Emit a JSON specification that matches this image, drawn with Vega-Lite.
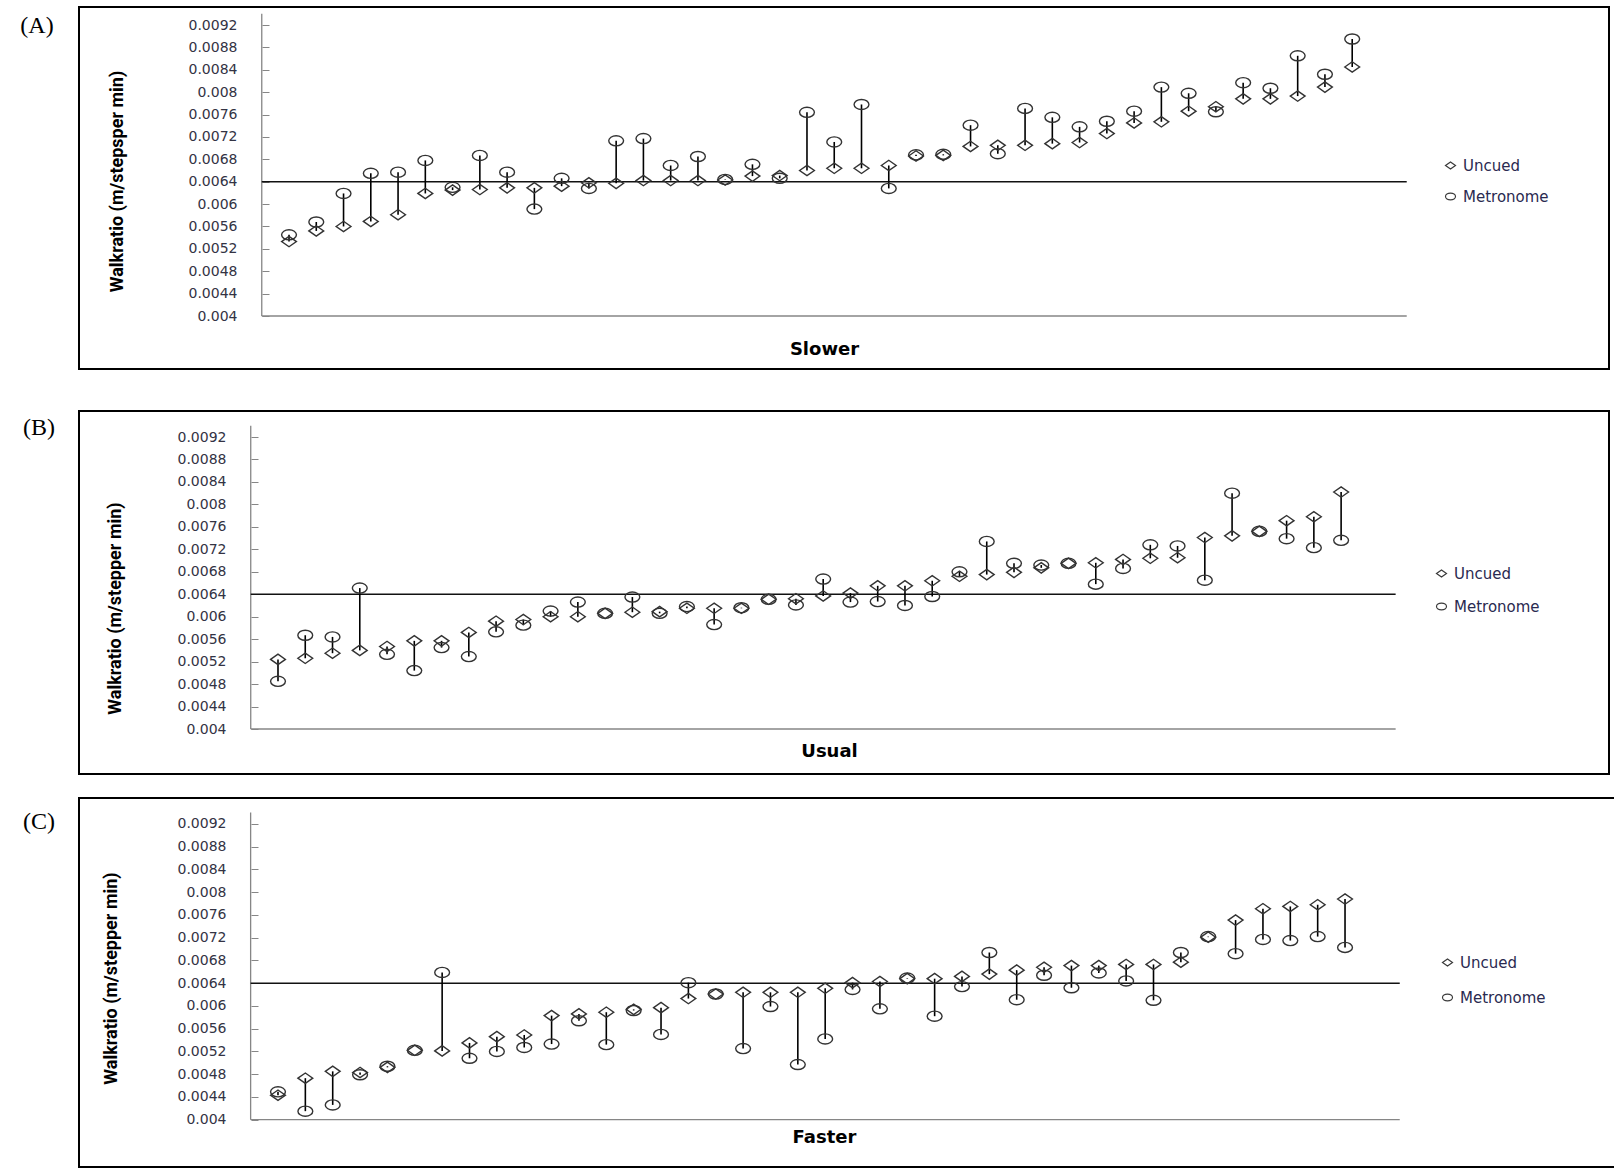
{
  "$schema": "https://vega.github.io/schema/vega-lite/v6.json",
  "background": "white",
  "padding": {"left": 19, "top": 6, "right": 0, "bottom": 0},
  "spacing": 40,
  "config": {
    "view": {"stroke": "black", "strokeWidth": 2},
    "axis": {"grid": false, "labelOverlap": false},
    "font": "DejaVu Sans"
  },
  "resolve": {
    "scale": {"x": "independent", "y": "independent", "shape": "independent"},
    "legend": {"shape": "independent"}
  },
  "datasets": {
    "walk": [
      {"speed": "Slower", "p": 1, "Uncued": 0.00533, "Metronome": 0.00545},
      {"speed": "Slower", "p": 2, "Uncued": 0.00552, "Metronome": 0.00568},
      {"speed": "Slower", "p": 3, "Uncued": 0.00560, "Metronome": 0.00619},
      {"speed": "Slower", "p": 4, "Uncued": 0.00569, "Metronome": 0.00655},
      {"speed": "Slower", "p": 5, "Uncued": 0.00581, "Metronome": 0.00657},
      {"speed": "Slower", "p": 6, "Uncued": 0.00619, "Metronome": 0.00678},
      {"speed": "Slower", "p": 7, "Uncued": 0.00625, "Metronome": 0.00630},
      {"speed": "Slower", "p": 8, "Uncued": 0.00626, "Metronome": 0.00687},
      {"speed": "Slower", "p": 9, "Uncued": 0.00629, "Metronome": 0.00657},
      {"speed": "Slower", "p": 10, "Uncued": 0.00629, "Metronome": 0.00591},
      {"speed": "Slower", "p": 11, "Uncued": 0.00632, "Metronome": 0.00646},
      {"speed": "Slower", "p": 12, "Uncued": 0.00638, "Metronome": 0.00628},
      {"speed": "Slower", "p": 13, "Uncued": 0.00637, "Metronome": 0.00713},
      {"speed": "Slower", "p": 14, "Uncued": 0.00642, "Metronome": 0.00717},
      {"speed": "Slower", "p": 15, "Uncued": 0.00642, "Metronome": 0.00669},
      {"speed": "Slower", "p": 16, "Uncued": 0.00642, "Metronome": 0.00685},
      {"speed": "Slower", "p": 17, "Uncued": 0.00643, "Metronome": 0.00644},
      {"speed": "Slower", "p": 18, "Uncued": 0.00650, "Metronome": 0.00671},
      {"speed": "Slower", "p": 19, "Uncued": 0.00651, "Metronome": 0.00646},
      {"speed": "Slower", "p": 20, "Uncued": 0.00660, "Metronome": 0.00764},
      {"speed": "Slower", "p": 21, "Uncued": 0.00664, "Metronome": 0.00711},
      {"speed": "Slower", "p": 22, "Uncued": 0.00664, "Metronome": 0.00778},
      {"speed": "Slower", "p": 23, "Uncued": 0.00669, "Metronome": 0.00628},
      {"speed": "Slower", "p": 24, "Uncued": 0.00686, "Metronome": 0.00688},
      {"speed": "Slower", "p": 25, "Uncued": 0.00687, "Metronome": 0.00689},
      {"speed": "Slower", "p": 26, "Uncued": 0.00703, "Metronome": 0.00741},
      {"speed": "Slower", "p": 27, "Uncued": 0.00705, "Metronome": 0.00690},
      {"speed": "Slower", "p": 28, "Uncued": 0.00705, "Metronome": 0.00771},
      {"speed": "Slower", "p": 29, "Uncued": 0.00708, "Metronome": 0.00755},
      {"speed": "Slower", "p": 30, "Uncued": 0.00710, "Metronome": 0.00738},
      {"speed": "Slower", "p": 31, "Uncued": 0.00726, "Metronome": 0.00748},
      {"speed": "Slower", "p": 32, "Uncued": 0.00745, "Metronome": 0.00766},
      {"speed": "Slower", "p": 33, "Uncued": 0.00747, "Metronome": 0.00809},
      {"speed": "Slower", "p": 34, "Uncued": 0.00766, "Metronome": 0.00798},
      {"speed": "Slower", "p": 35, "Uncued": 0.00774, "Metronome": 0.00765},
      {"speed": "Slower", "p": 36, "Uncued": 0.00788, "Metronome": 0.00817},
      {"speed": "Slower", "p": 37, "Uncued": 0.00788, "Metronome": 0.00807},
      {"speed": "Slower", "p": 38, "Uncued": 0.00793, "Metronome": 0.00865},
      {"speed": "Slower", "p": 39, "Uncued": 0.00809, "Metronome": 0.00832},
      {"speed": "Slower", "p": 40, "Uncued": 0.00845, "Metronome": 0.00895},
      {"speed": "Usual", "p": 1, "Uncued": 0.00524, "Metronome": 0.00485},
      {"speed": "Usual", "p": 2, "Uncued": 0.00526, "Metronome": 0.00567},
      {"speed": "Usual", "p": 3, "Uncued": 0.00535, "Metronome": 0.00564},
      {"speed": "Usual", "p": 4, "Uncued": 0.00540, "Metronome": 0.00651},
      {"speed": "Usual", "p": 5, "Uncued": 0.00547, "Metronome": 0.00533},
      {"speed": "Usual", "p": 6, "Uncued": 0.00557, "Metronome": 0.00504},
      {"speed": "Usual", "p": 7, "Uncued": 0.00557, "Metronome": 0.00545},
      {"speed": "Usual", "p": 8, "Uncued": 0.00572, "Metronome": 0.00529},
      {"speed": "Usual", "p": 9, "Uncued": 0.00592, "Metronome": 0.00573},
      {"speed": "Usual", "p": 10, "Uncued": 0.00595, "Metronome": 0.00585},
      {"speed": "Usual", "p": 11, "Uncued": 0.00600, "Metronome": 0.00610},
      {"speed": "Usual", "p": 12, "Uncued": 0.00600, "Metronome": 0.00626},
      {"speed": "Usual", "p": 13, "Uncued": 0.00606, "Metronome": 0.00606},
      {"speed": "Usual", "p": 14, "Uncued": 0.00608, "Metronome": 0.00635},
      {"speed": "Usual", "p": 15, "Uncued": 0.00609, "Metronome": 0.00606},
      {"speed": "Usual", "p": 16, "Uncued": 0.00615, "Metronome": 0.00618},
      {"speed": "Usual", "p": 17, "Uncued": 0.00615, "Metronome": 0.00586},
      {"speed": "Usual", "p": 18, "Uncued": 0.00615, "Metronome": 0.00616},
      {"speed": "Usual", "p": 19, "Uncued": 0.00631, "Metronome": 0.00631},
      {"speed": "Usual", "p": 20, "Uncued": 0.00632, "Metronome": 0.00621},
      {"speed": "Usual", "p": 21, "Uncued": 0.00637, "Metronome": 0.00667},
      {"speed": "Usual", "p": 22, "Uncued": 0.00642, "Metronome": 0.00626},
      {"speed": "Usual", "p": 23, "Uncued": 0.00655, "Metronome": 0.00627},
      {"speed": "Usual", "p": 24, "Uncued": 0.00655, "Metronome": 0.00620},
      {"speed": "Usual", "p": 25, "Uncued": 0.00664, "Metronome": 0.00636},
      {"speed": "Usual", "p": 26, "Uncued": 0.00672, "Metronome": 0.00680},
      {"speed": "Usual", "p": 27, "Uncued": 0.00675, "Metronome": 0.00734},
      {"speed": "Usual", "p": 28, "Uncued": 0.00679, "Metronome": 0.00695},
      {"speed": "Usual", "p": 29, "Uncued": 0.00687, "Metronome": 0.00692},
      {"speed": "Usual", "p": 30, "Uncued": 0.00695, "Metronome": 0.00695},
      {"speed": "Usual", "p": 31, "Uncued": 0.00696, "Metronome": 0.00658},
      {"speed": "Usual", "p": 32, "Uncued": 0.00702, "Metronome": 0.00686},
      {"speed": "Usual", "p": 33, "Uncued": 0.00704, "Metronome": 0.00728},
      {"speed": "Usual", "p": 34, "Uncued": 0.00705, "Metronome": 0.00726},
      {"speed": "Usual", "p": 35, "Uncued": 0.00741, "Metronome": 0.00665},
      {"speed": "Usual", "p": 36, "Uncued": 0.00744, "Metronome": 0.00820},
      {"speed": "Usual", "p": 37, "Uncued": 0.00752, "Metronome": 0.00752},
      {"speed": "Usual", "p": 38, "Uncued": 0.00771, "Metronome": 0.00739},
      {"speed": "Usual", "p": 39, "Uncued": 0.00778, "Metronome": 0.00723},
      {"speed": "Usual", "p": 40, "Uncued": 0.00822, "Metronome": 0.00736},
      {"speed": "Faster", "p": 1, "Uncued": 0.00443, "Metronome": 0.00449},
      {"speed": "Faster", "p": 2, "Uncued": 0.00473, "Metronome": 0.00415},
      {"speed": "Faster", "p": 3, "Uncued": 0.00485, "Metronome": 0.00426},
      {"speed": "Faster", "p": 4, "Uncued": 0.00483, "Metronome": 0.00479},
      {"speed": "Faster", "p": 5, "Uncued": 0.00492, "Metronome": 0.00494},
      {"speed": "Faster", "p": 6, "Uncued": 0.00522, "Metronome": 0.00522},
      {"speed": "Faster", "p": 7, "Uncued": 0.00521, "Metronome": 0.00659},
      {"speed": "Faster", "p": 8, "Uncued": 0.00535, "Metronome": 0.00508},
      {"speed": "Faster", "p": 9, "Uncued": 0.00546, "Metronome": 0.00520},
      {"speed": "Faster", "p": 10, "Uncued": 0.00549, "Metronome": 0.00527},
      {"speed": "Faster", "p": 11, "Uncued": 0.00583, "Metronome": 0.00533},
      {"speed": "Faster", "p": 12, "Uncued": 0.00586, "Metronome": 0.00574},
      {"speed": "Faster", "p": 13, "Uncued": 0.00589, "Metronome": 0.00532},
      {"speed": "Faster", "p": 14, "Uncued": 0.00594, "Metronome": 0.00592},
      {"speed": "Faster", "p": 15, "Uncued": 0.00597, "Metronome": 0.00550},
      {"speed": "Faster", "p": 16, "Uncued": 0.00613, "Metronome": 0.00641},
      {"speed": "Faster", "p": 17, "Uncued": 0.00621, "Metronome": 0.00621},
      {"speed": "Faster", "p": 18, "Uncued": 0.00624, "Metronome": 0.00525},
      {"speed": "Faster", "p": 19, "Uncued": 0.00624, "Metronome": 0.00599},
      {"speed": "Faster", "p": 20, "Uncued": 0.00624, "Metronome": 0.00497},
      {"speed": "Faster", "p": 21, "Uncued": 0.00631, "Metronome": 0.00542},
      {"speed": "Faster", "p": 22, "Uncued": 0.00641, "Metronome": 0.00629},
      {"speed": "Faster", "p": 23, "Uncued": 0.00643, "Metronome": 0.00595},
      {"speed": "Faster", "p": 24, "Uncued": 0.00648, "Metronome": 0.00649},
      {"speed": "Faster", "p": 25, "Uncued": 0.00648, "Metronome": 0.00582},
      {"speed": "Faster", "p": 26, "Uncued": 0.00652, "Metronome": 0.00634},
      {"speed": "Faster", "p": 27, "Uncued": 0.00656, "Metronome": 0.00694},
      {"speed": "Faster", "p": 28, "Uncued": 0.00663, "Metronome": 0.00611},
      {"speed": "Faster", "p": 29, "Uncued": 0.00668, "Metronome": 0.00654},
      {"speed": "Faster", "p": 30, "Uncued": 0.00671, "Metronome": 0.00632},
      {"speed": "Faster", "p": 31, "Uncued": 0.00671, "Metronome": 0.00658},
      {"speed": "Faster", "p": 32, "Uncued": 0.00673, "Metronome": 0.00644},
      {"speed": "Faster", "p": 33, "Uncued": 0.00673, "Metronome": 0.00610},
      {"speed": "Faster", "p": 34, "Uncued": 0.00677, "Metronome": 0.00694},
      {"speed": "Faster", "p": 35, "Uncued": 0.00721, "Metronome": 0.00722},
      {"speed": "Faster", "p": 36, "Uncued": 0.00751, "Metronome": 0.00692},
      {"speed": "Faster", "p": 37, "Uncued": 0.00771, "Metronome": 0.00717},
      {"speed": "Faster", "p": 38, "Uncued": 0.00775, "Metronome": 0.00715},
      {"speed": "Faster", "p": 39, "Uncued": 0.00778, "Metronome": 0.00722},
      {"speed": "Faster", "p": 40, "Uncued": 0.00788, "Metronome": 0.00703}
    ]
  },
  "vconcat": [
    {
      "resolve": {"scale": {"x": "independent", "y": "independent", "shape": "independent"}, "legend": {"shape": "independent"}},
      "vconcat": [
        {
          "width": 1530,
          "height": 362,
          "title": {"text": "(A)", "orient": "left", "anchor": "end", "frame": "group", "angle": 0, "align": "right", "baseline": "top", "offset": -8, "dy": 7, "font": "Liberation Serif", "fontSize": 24, "fontWeight": "normal", "color": "black"},
          "layer": [
            {
              "data": {"values": [{}]},
              "mark": {"type": "rule", "color": "#868686", "strokeWidth": 1.3},
              "encoding": {
                "x": {"datum": 0, "type": "quantitative",
                      "scale": {"domain": [-6.704, 49.42], "nice": false, "zero": false},
                      "axis": {"orient": "bottom", "offset": -53, "domain": false, "ticks": false, "labels": false, "grid": false,
                               "title": "Slower", "titleFont": "DejaVu Sans", "titleFontWeight": "bold", "titleFontSize": 18, "titleColor": "black",
                               "titleX": 745, "titlePadding": 33, "titleBaseline": "middle"}},
                "y": {"datum": 0.004, "type": "quantitative",
                      "scale": {"domain": [0.003053, 0.0095217], "nice": false, "zero": false},
                      "axis": {"orient": "left", "offset": -183, "domain": false, "grid": false, "labelOverlap": false, "tickCount": 30,
                               "values": [0.004, 0.0044, 0.0048, 0.0052, 0.0056, 0.006, 0.0064, 0.0068, 0.0072, 0.0076, 0.008, 0.0084, 0.0088, 0.0092],
                               "format": "~g", "tickSize": -7, "tickColor": "#868686", "tickWidth": 1, "labelPadding": 32,
                               "labelFont": "DejaVu Sans", "labelFontSize": 14, "labelColor": "#333344",
                               "title": "Walkratio (m/stepsper min)", "titleFont": "Roboto", "titleFontWeight": "bold", "titleFontSize": 18,
                               "titleColor": "black", "titleAngle": -90, "titleX": -145, "titleY": 174, "titleBaseline": "middle", "titleAlign": "center"}},
                "y2": {"datum": 0.0094}
              }
            },
            {
              "data": {"values": [{}]},
              "mark": {"type": "rule", "color": "#868686", "strokeWidth": 1.3},
              "encoding": {"x": {"datum": 0, "type": "quantitative"}, "x2": {"datum": 42}, "y": {"datum": 0.004, "type": "quantitative"}}
            },
            {
              "data": {"values": [{}]},
              "mark": {"type": "rule", "color": "#111111", "strokeWidth": 1.4},
              "encoding": {"x": {"datum": 0, "type": "quantitative"}, "x2": {"datum": 42}, "y": {"datum": 0.0064, "type": "quantitative"}}
            },
            {
              "data": {"name": "walk"},
              "transform": [{"filter": "datum.speed === 'Slower'"}],
              "mark": {"type": "rule", "color": "black", "strokeWidth": 1.6},
              "encoding": {"x": {"field": "p", "type": "quantitative"}, "y": {"field": "Uncued", "type": "quantitative"}, "y2": {"field": "Metronome"}}
            },
            {
              "data": {"name": "walk"},
              "transform": [{"filter": "datum.speed === 'Slower'"}, {"fold": ["Uncued", "Metronome"], "as": ["condition", "value"]}],
              "mark": {"type": "point", "filled": false, "size": 220, "strokeWidth": 1.4, "color": "#333333", "opacity": 1},
              "encoding": {
                "x": {"field": "p", "type": "quantitative"},
                "y": {"field": "value", "type": "quantitative"},
                "shape": {"field": "condition", "type": "nominal",
                          "scale": {"domain": ["Uncued", "Metronome"], "range": ["M-1,0L0,-0.7L1,0L0,0.7Z", "M-1,0C-1,-0.3756,-0.5523,-0.68,0,-0.68C0.5523,-0.68,1,-0.3756,1,0C1,0.3756,0.5523,0.68,0,0.68C-0.5523,0.68,-1,0.3756,-1,0Z"]},
                          "legend": {"orient": "none", "legendX": 1364, "legendY": 151, "title": null, "labelFont": "DejaVu Sans", "labelFontSize": 15,
                                     "labelColor": "#2a2a50", "rowPadding": 15, "symbolSize": 100, "symbolStrokeWidth": 1.2, "symbolStrokeColor": "#3a3a3a", "labelOffset": 5}}
              }
            }
          ]
        }
      ]
    },
    {
      "spacing": 22,
      "resolve": {"scale": {"x": "independent", "y": "independent", "shape": "independent"}, "legend": {"shape": "independent"}},
      "vconcat": [
        {
          "width": 1530,
          "height": 363,
          "title": {"text": "(B)", "orient": "left", "anchor": "end", "frame": "group", "angle": 0, "align": "right", "baseline": "top", "offset": -8, "dy": 5, "font": "Liberation Serif", "fontSize": 24, "fontWeight": "normal", "color": "black"},
          "layer": [
            {
              "data": {"values": [{}]},
              "mark": {"type": "rule", "color": "#868686", "strokeWidth": 1.3},
              "encoding": {
                "x": {"datum": 0, "type": "quantitative",
                      "scale": {"domain": [-6.3, 49.827], "nice": false, "zero": false},
                      "axis": {"orient": "bottom", "offset": -45, "domain": false, "ticks": false, "labels": false, "grid": false,
                               "title": "Usual", "titleFont": "DejaVu Sans", "titleFontWeight": "bold", "titleFontSize": 18, "titleColor": "black",
                               "titleX": 750, "titlePadding": 22, "titleBaseline": "middle"}},
                "y": {"datum": 0.004, "type": "quantitative",
                      "scale": {"domain": [0.003199, 0.009663], "nice": false, "zero": false},
                      "axis": {"orient": "left", "offset": -172, "domain": false, "grid": false, "labelOverlap": false, "tickCount": 30,
                               "values": [0.004, 0.0044, 0.0048, 0.0052, 0.0056, 0.006, 0.0064, 0.0068, 0.0072, 0.0076, 0.008, 0.0084, 0.0088, 0.0092],
                               "format": "~g", "tickSize": -7, "tickColor": "#868686", "tickWidth": 1, "labelPadding": 32,
                               "labelFont": "DejaVu Sans", "labelFontSize": 14, "labelColor": "#333344",
                               "title": "Walkratio (m/stepper min)", "titleFont": "Roboto", "titleFontWeight": "bold", "titleFontSize": 18,
                               "titleColor": "black", "titleAngle": -90, "titleX": -136, "titleY": 197, "titleBaseline": "middle", "titleAlign": "center"}},
                "y2": {"datum": 0.0094}
              }
            },
            {
              "data": {"values": [{}]},
              "mark": {"type": "rule", "color": "#868686", "strokeWidth": 1.3},
              "encoding": {"x": {"datum": 0, "type": "quantitative"}, "x2": {"datum": 42}, "y": {"datum": 0.004, "type": "quantitative"}}
            },
            {
              "data": {"values": [{}]},
              "mark": {"type": "rule", "color": "#111111", "strokeWidth": 1.4},
              "encoding": {"x": {"datum": 0, "type": "quantitative"}, "x2": {"datum": 42}, "y": {"datum": 0.0064, "type": "quantitative"}}
            },
            {
              "data": {"name": "walk"},
              "transform": [{"filter": "datum.speed === 'Usual'"}],
              "mark": {"type": "rule", "color": "black", "strokeWidth": 1.6},
              "encoding": {"x": {"field": "p", "type": "quantitative"}, "y": {"field": "Uncued", "type": "quantitative"}, "y2": {"field": "Metronome"}}
            },
            {
              "data": {"name": "walk"},
              "transform": [{"filter": "datum.speed === 'Usual'"}, {"fold": ["Uncued", "Metronome"], "as": ["condition", "value"]}],
              "mark": {"type": "point", "filled": false, "size": 220, "strokeWidth": 1.4, "color": "#333333", "opacity": 1},
              "encoding": {
                "x": {"field": "p", "type": "quantitative"},
                "y": {"field": "value", "type": "quantitative"},
                "shape": {"field": "condition", "type": "nominal",
                          "scale": {"domain": ["Uncued", "Metronome"], "range": ["M-1,0L0,-0.7L1,0L0,0.7Z", "M-1,0C-1,-0.3756,-0.5523,-0.68,0,-0.68C0.5523,-0.68,1,-0.3756,1,0C1,0.3756,0.5523,0.68,0,0.68C-0.5523,0.68,-1,0.3756,-1,0Z"]},
                          "legend": {"orient": "none", "legendX": 1355, "legendY": 155, "title": null, "labelFont": "DejaVu Sans", "labelFontSize": 15,
                                     "labelColor": "#2a2a50", "rowPadding": 17, "symbolSize": 100, "symbolStrokeWidth": 1.2, "symbolStrokeColor": "#3a3a3a", "labelOffset": 5}}
              }
            }
          ]
        },
        {
          "width": 1537,
          "height": 369,
          "title": {"text": "(C)", "orient": "left", "anchor": "end", "frame": "group", "angle": 0, "align": "right", "baseline": "top", "offset": -8, "dy": 12, "font": "Liberation Serif", "fontSize": 24, "fontWeight": "normal", "color": "black"},
          "layer": [
            {
              "data": {"values": [{}]},
              "mark": {"type": "rule", "color": "#868686", "strokeWidth": 1.3},
              "encoding": {
                "x": {"datum": 0, "type": "quantitative",
                      "scale": {"domain": [-6.273, 49.904], "nice": false, "zero": false},
                      "axis": {"orient": "bottom", "offset": -47, "domain": false, "ticks": false, "labels": false, "grid": false,
                               "title": "Faster", "titleFont": "DejaVu Sans", "titleFontWeight": "bold", "titleFontSize": 18, "titleColor": "black",
                               "titleX": 745, "titlePadding": 17, "titleBaseline": "middle"}},
                "y": {"datum": 0.004, "type": "quantitative",
                      "scale": {"domain": [0.003168, 0.009657], "nice": false, "zero": false},
                      "axis": {"orient": "left", "offset": -172, "domain": false, "grid": false, "labelOverlap": false, "tickCount": 30,
                               "values": [0.004, 0.0044, 0.0048, 0.0052, 0.0056, 0.006, 0.0064, 0.0068, 0.0072, 0.0076, 0.008, 0.0084, 0.0088, 0.0092],
                               "format": "~g", "tickSize": -7, "tickColor": "#868686", "tickWidth": 1, "labelPadding": 32,
                               "labelFont": "DejaVu Sans", "labelFontSize": 14, "labelColor": "#333344",
                               "title": "Walkratio (m/stepper min)", "titleFont": "Roboto", "titleFontWeight": "bold", "titleFontSize": 18,
                               "titleColor": "black", "titleAngle": -90, "titleX": -140, "titleY": 180, "titleBaseline": "middle", "titleAlign": "center"}},
                "y2": {"datum": 0.0094}
              }
            },
            {
              "data": {"values": [{}]},
              "mark": {"type": "rule", "color": "#868686", "strokeWidth": 1.3},
              "encoding": {"x": {"datum": 0, "type": "quantitative"}, "x2": {"datum": 42}, "y": {"datum": 0.004, "type": "quantitative"}}
            },
            {
              "data": {"values": [{}]},
              "mark": {"type": "rule", "color": "#111111", "strokeWidth": 1.4},
              "encoding": {"x": {"datum": 0, "type": "quantitative"}, "x2": {"datum": 42}, "y": {"datum": 0.0064, "type": "quantitative"}}
            },
            {
              "data": {"name": "walk"},
              "transform": [{"filter": "datum.speed === 'Faster'"}],
              "mark": {"type": "rule", "color": "black", "strokeWidth": 1.6},
              "encoding": {"x": {"field": "p", "type": "quantitative"}, "y": {"field": "Uncued", "type": "quantitative"}, "y2": {"field": "Metronome"}}
            },
            {
              "data": {"name": "walk"},
              "transform": [{"filter": "datum.speed === 'Faster'"}, {"fold": ["Uncued", "Metronome"], "as": ["condition", "value"]}],
              "mark": {"type": "point", "filled": false, "size": 220, "strokeWidth": 1.4, "color": "#333333", "opacity": 1},
              "encoding": {
                "x": {"field": "p", "type": "quantitative"},
                "y": {"field": "value", "type": "quantitative"},
                "shape": {"field": "condition", "type": "nominal",
                          "scale": {"domain": ["Uncued", "Metronome"], "range": ["M-1,0L0,-0.7L1,0L0,0.7Z", "M-1,0C-1,-0.3756,-0.5523,-0.68,0,-0.68C0.5523,-0.68,1,-0.3756,1,0C1,0.3756,0.5523,0.68,0,0.68C-0.5523,0.68,-1,0.3756,-1,0Z"]},
                          "legend": {"orient": "none", "legendX": 1361, "legendY": 157, "title": null, "labelFont": "DejaVu Sans", "labelFontSize": 15,
                                     "labelColor": "#2a2a50", "rowPadding": 19, "symbolSize": 100, "symbolStrokeWidth": 1.2, "symbolStrokeColor": "#3a3a3a", "labelOffset": 5}}
              }
            }
          ]
        }
      ]
    }
  ]
}
